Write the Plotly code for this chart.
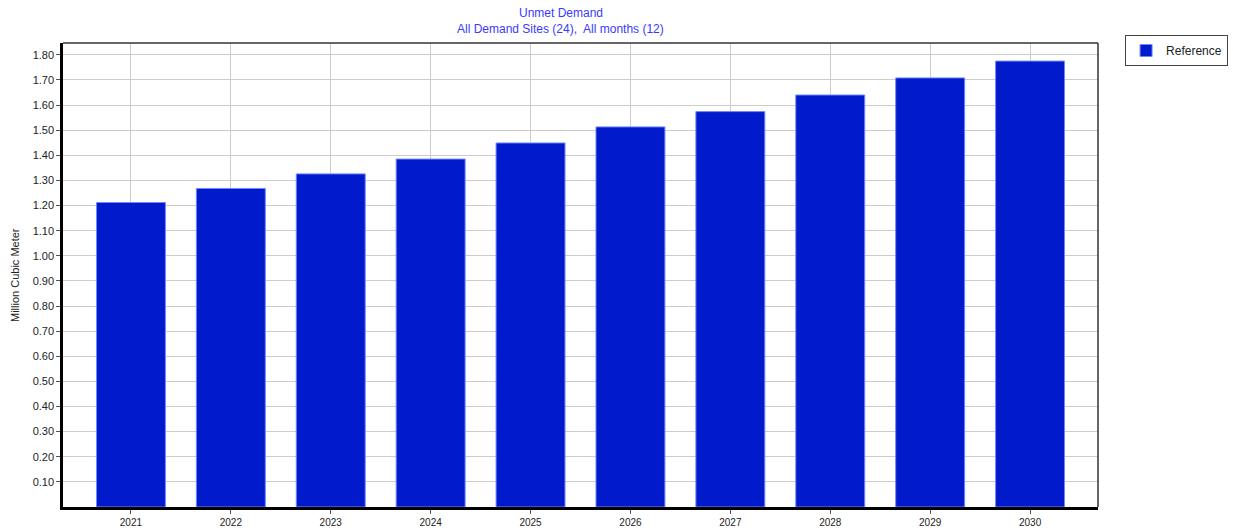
import plotly.graph_objects as go

years = ["2021", "2022", "2023", "2024", "2025", "2026", "2027", "2028", "2029", "2030"]
unmet = [1.212, 1.268, 1.326, 1.385, 1.449, 1.513, 1.574, 1.640, 1.708, 1.775]
y_ticks = [0.10, 0.20, 0.30, 0.40, 0.50, 0.60, 0.70, 0.80, 0.90, 1.00,
           1.10, 1.20, 1.30, 1.40, 1.50, 1.60, 1.70, 1.80]

title_color = "#3a3aff"
bar_color = "#001acc"

fig = go.Figure()

fig.add_trace(go.Bar(
    x=list(range(len(years))),
    y=unmet,
    name="Reference",
    width=0.69,
    marker=dict(color=bar_color, line=dict(color="#6f86ff", width=1)),
    showlegend=True
))

# plot area: x 63..1098, y 43..507 in page pixels
plot_w = 1098 - 63
plot_h = 507 - 43

fig.update_layout(
    width=1233,
    height=531,
    margin=dict(l=63, r=135, t=43, b=24, autoexpand=False),
    paper_bgcolor="white",
    plot_bgcolor="white",
    font=dict(family="Liberation Sans, Arial, sans-serif", size=11, color="#222222"),
    xaxis=dict(
        range=[-0.68, 9.68],
        tickmode="array",
        tickvals=list(range(len(years))),
        ticktext=years,
        tickfont=dict(size=10),
        ticks="outside", ticklen=4, tickcolor="#555555",
        showgrid=True, gridcolor="#cccccc", gridwidth=1,
        showline=True, linecolor="black", linewidth=2.5,
        zeroline=False, automargin=False
    ),
    yaxis=dict(
        range=[0, 1.847],
        tickmode="array",
        tickvals=y_ticks,
        ticktext=[f"{v:.2f}" for v in y_ticks],
        ticks="outside", ticklen=4, tickcolor="#555555",
        showgrid=True, gridcolor="#cccccc", gridwidth=1,
        showline=True, linecolor="black", linewidth=2.5,
        zeroline=False, automargin=False
    ),
    legend=dict(
        xref="container", yref="container",
        x=0.996, xanchor="right", y=1 - 35 / 531, yanchor="top",
        bordercolor="#444444", borderwidth=1,
        font=dict(size=12, color="#222222"),
        itemwidth=30,
        tracegroupgap=0
    ),
    bargap=0.3,
    annotations=[
        dict(text="Unmet Demand", xref="paper", yref="paper",
             x=0.481, y=(507 - 13) / plot_h, xanchor="center", yanchor="middle",
             showarrow=False, font=dict(size=12, color=title_color)),
        dict(text="All Demand Sites (24),  All months (12)", xref="paper", yref="paper",
             x=0.481, y=(507 - 29) / plot_h, xanchor="center", yanchor="middle",
             showarrow=False, font=dict(size=12, color=title_color)),
        dict(text="Million Cubic Meter", xref="paper", yref="paper",
             x=(15 - 63) / plot_w, y=0.5, xanchor="center", yanchor="middle",
             textangle=-90, showarrow=False, font=dict(size=11, color="#222222")),
    ],
    shapes=[
        dict(type="line", xref="paper", yref="paper", x0=0, x1=1, y0=1, y1=1,
             line=dict(color="#333333", width=1.5)),
        dict(type="line", xref="paper", yref="paper", x0=1, x1=1, y0=0, y1=1,
             line=dict(color="#333333", width=1.5)),
    ]
)

fig.write_html("out.html", config={"displayModeBar": False},
               post_script="document.body.style.margin='0';")
